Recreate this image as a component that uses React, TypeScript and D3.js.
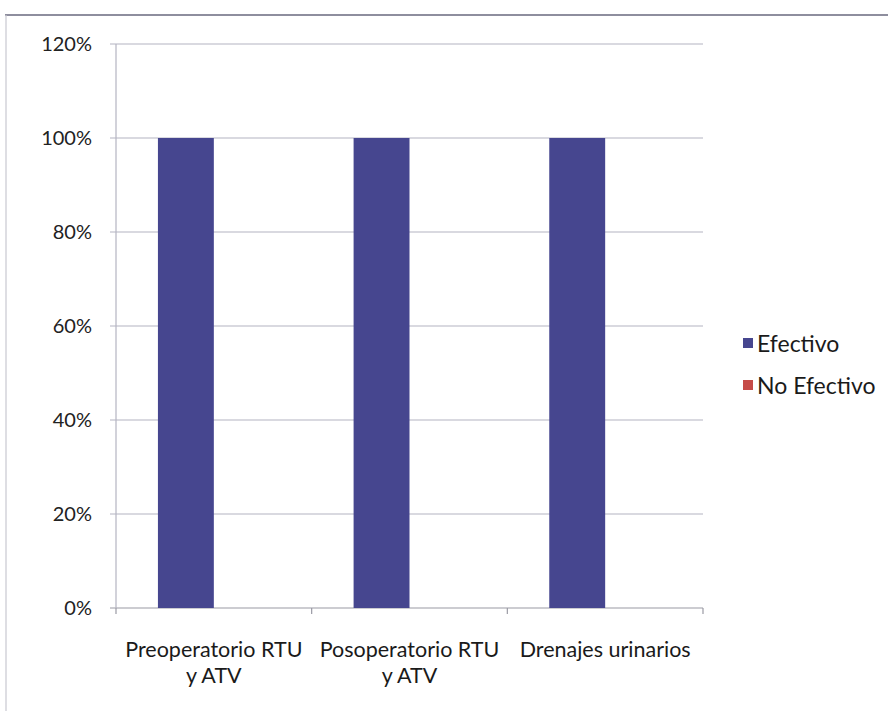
import React from 'react';
import * as d3 from 'd3';

const categories = [['Preoperatorio RTU', 'y ATV'], ['Posoperatorio RTU', 'y ATV'], ['Drenajes urinarios']];
const seriesNames = ['Efectivo', 'No Efectivo'];
const efectivo = [1, 1, 1];
const noEfectivo = [0, 0, 0];
const yTicks = [0, 0.2, 0.4, 0.6, 0.8, 1, 1.2];
const seriesColors = ['#46468f', '#c64b48'];

const W = 888;
const H = 711;
const FONT = "Lato, 'Open Sans', sans-serif";

export default function App() {
  const left = 116;
  const right = 703;
  const top = 44;
  const bottom = 608;

  const y = d3.scaleLinear().domain([0, 1.2]).range([bottom, top]);
  const x0 = d3
    .scaleBand<number>()
    .domain(d3.range(categories.length))
    .range([left, right])
    .paddingInner(1.5 / 3.5)
    .paddingOuter(0.75 / 3.5);
  const x1 = d3.scaleBand<number>().domain([0, 1]).range([0, x0.bandwidth()]);
  const step = x0.step();
  const values = [efectivo, noEfectivo];

  return (
    <svg width={W} height={H} style={{ position: 'absolute', left: 0, top: 0 }}>
      <rect x={0} y={0} width={W} height={H} fill="#fff" />
      {/* frame */}
      <line x1={5} x2={W} y1={15} y2={15} stroke="#8e8e9e" strokeWidth={2} />
      <line x1={6} x2={6} y1={15} y2={H} stroke="#c8c8d0" strokeWidth={1.2} />

      {/* gridlines */}
      {yTicks.map((t) => (
        <g key={t}>
          <line x1={left - 6} x2={right} y1={y(t)} y2={y(t)} stroke={t === 0 ? '#9a9aa4' : '#b4b4c2'} strokeWidth={1.2} />
          <text x={92} y={y(t)} dy="0.35em" textAnchor="end" fontFamily={FONT} fontSize={20} fill="#222">
            {`${Math.round(t * 100)}%`}
          </text>
        </g>
      ))}
      <line x1={left} x2={left} y1={top} y2={bottom} stroke="#b4b4c2" strokeWidth={1.2} />

      {/* category ticks */}
      {d3.range(categories.length + 1).map((i) => (
        <line key={i} x1={left + i * step} x2={left + i * step} y1={bottom} y2={bottom + 6} stroke="#9a9aa4" strokeWidth={1.2} />
      ))}

      {/* bars */}
      {categories.map((_, i) =>
        values.map((vals, s) => (
          <rect
            key={`${i}-${s}`}
            x={(x0(i) ?? 0) + (x1(s) ?? 0)}
            y={y(vals[i])}
            width={x1.bandwidth()}
            height={bottom - y(vals[i])}
            fill={seriesColors[s]}
          />
        ))
      )}

      {/* category labels */}
      {categories.map((lines, i) => (
        <text key={i} textAnchor="middle" fontFamily={FONT} fontSize={21.5} fill="#1a1a1a">
          {lines.map((l, j) => (
            <tspan key={j} x={(x0(i) ?? 0) + x0.bandwidth() / 2} y={657 + j * 26}>
              {l}
            </tspan>
          ))}
        </text>
      ))}

      {/* legend */}
      {seriesNames.map((name, s) => (
        <g key={name} transform={`translate(743, ${338 + s * 42})`}>
          <rect width={10} height={10} fill={seriesColors[s]} />
          <text x={14} y={5} dy="0.38em" fontFamily={FONT} fontSize={23} fill="#1a1a1a">
            {name}
          </text>
        </g>
      ))}
    </svg>
  );
}
